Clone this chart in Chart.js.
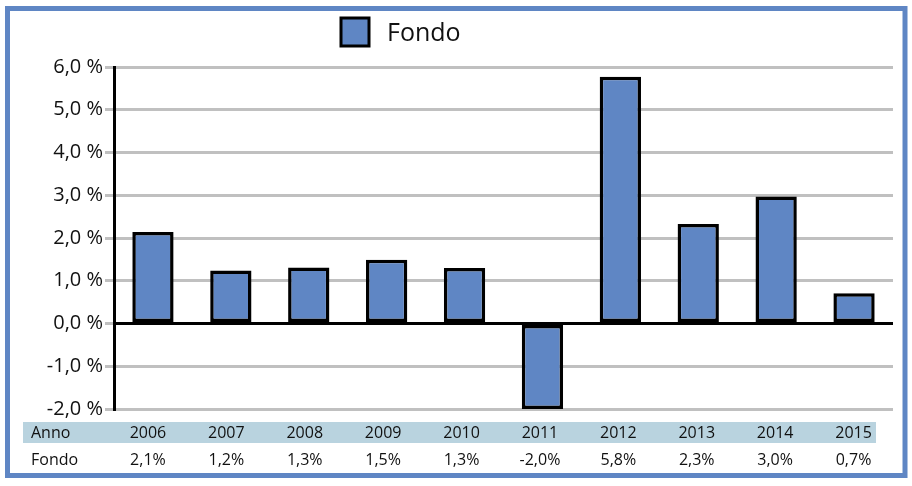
<!DOCTYPE html>
<html>
<head>
<meta charset="utf-8">
<script src="https://cdn.jsdelivr.net/npm/chart.js@4.4.1/dist/chart.umd.min.js"></script>
<style>
  html, body { margin: 0; padding: 0; background: #ffffff; }
  canvas { display: block; }
</style>
</head>
<body>
<canvas id="c" width="912" height="486"></canvas>
<script>
const years = ['2006', '2007', '2008', '2009', '2010', '2011', '2012', '2013', '2014', '2015'];
const fondoValues = [2.14, 1.24, 1.31, 1.49, 1.30, -2.0, 5.77, 2.33, 2.97, 0.71];
const fondoLabels = ['2,1%', '1,2%', '1,3%', '1,5%', '1,3%', '-2,0%', '5,8%', '2,3%', '3,0%', '0,7%'];
const seriesName = 'Fondo';
const rowHeader = 'Anno';
const yMin = -2, yMax = 6, yStep = 1;

const BAR_COLOR = '#5F86C4';
const FONT = '"Open Sans", "DejaVu Sans", sans-serif';

const framePlugin = {
  id: 'frame',
  beforeDraw(chart) {
    const ctx = chart.ctx;
    ctx.save();
    ctx.fillStyle = '#ffffff';
    ctx.fillRect(0, 0, chart.width, chart.height);
    ctx.restore();
  },
  afterDraw(chart) {
    const ctx = chart.ctx;
    const x = chart.scales.x;
    ctx.save();
    // outer frame
    ctx.strokeStyle = '#5F86C4';
    ctx.lineWidth = 5;
    ctx.strokeRect(7.5, 8.5, 897.5, 467);

    // legend
    ctx.fillStyle = BAR_COLOR;
    ctx.fillRect(341, 18, 28, 28);
    ctx.strokeStyle = '#000';
    ctx.lineWidth = 3;
    ctx.strokeRect(341, 18, 28, 28);
    ctx.fillStyle = '#111';
    ctx.font = '25px ' + FONT;
    ctx.textBaseline = 'middle';
    ctx.textAlign = 'left';
    ctx.fillText(seriesName, 387, 34);

    // data table
    ctx.fillStyle = '#B9D3DF';
    ctx.fillRect(23, 422, 853, 21);
    ctx.fillStyle = '#111';
    ctx.font = '16px ' + FONT;
    ctx.textAlign = 'left';
    ctx.fillText(rowHeader, 31, 433);
    ctx.fillText(seriesName, 31, 460);
    ctx.textAlign = 'center';
    years.forEach((y, i) => {
      const cx = x.getPixelForValue(i) - 5 + i * 0.5;
      ctx.fillText(y, cx, 433);
      ctx.fillText(fondoLabels[i], cx, 460);
    });
    ctx.restore();
  }
};

new Chart(document.getElementById('c'), {
  type: 'bar',
  data: {
    labels: years,
    datasets: [{
      label: seriesName,
      data: fondoValues,
      backgroundColor: BAR_COLOR,
      borderColor: '#000000',
      borderWidth: 3.5,
      borderSkipped: false,
      barPercentage: 0.53,
      categoryPercentage: 1.0
    }]
  },
  options: {
    responsive: false,
    animation: false,
    layout: { padding: { top: 67, bottom: 77, left: 0, right: 19 } },
    plugins: {
      legend: { display: false },
      tooltip: { enabled: false }
    },
    scales: {
      x: {
        display: false,
        grid: { display: false }
      },
      y: {
        min: yMin,
        max: yMax,
        afterFit(scale) { scale.width = 114; },
        border: { display: true, color: '#000000', width: 3 },
        grid: {
          color: (c) => (c.tick && c.tick.value === 0 ? '#000000' : '#C0C0C0'),
          tickColor: '#C0C0C0',
          lineWidth: 3,
          tickLength: 9
        },
        ticks: {
          stepSize: yStep,
          padding: 2,
          color: '#111',
          font: { family: FONT, size: 20 },
          callback: (v) => v.toFixed(1).replace('.', ',') + ' %'
        }
      }
    }
  },
  plugins: [framePlugin]
});
</script>
</body>
</html>
